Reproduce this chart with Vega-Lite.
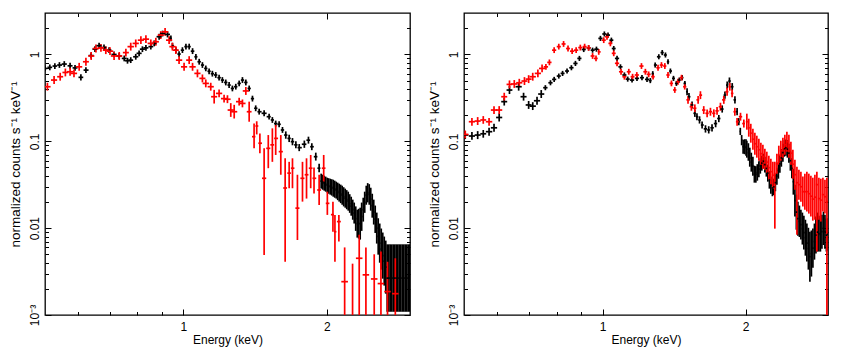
{
"$schema": "https://vega.github.io/schema/vega-lite/v6.json",
"background": "white",
"padding": {"left": 7, "top": 11, "right": 0, "bottom": 8},
"config": {
  "view": {"stroke": "black", "strokeWidth": 1.3},
  "axis": {"domain": false, "grid": false, "tickColor": "black", "tickWidth": 1, "labelFont": "Liberation Sans", "labelFontSize": 12, "labelColor": "black", "titleFont": "Liberation Sans", "titleFontSize": 12, "titleFontWeight": "normal", "titleColor": "black", "labelFlush": false, "labelOverlap": false}
},
"datasets": {
"A": [
{"s":"b","e":0.512,"el":0.506,"eh":0.518,"y":0.69,"yl":0.64,"yh":0.745},
{"s":"b","e":0.524,"el":0.518,"eh":0.530,"y":0.71,"yl":0.657,"yh":0.767},
{"s":"b","e":0.537,"el":0.531,"eh":0.543,"y":0.735,"yl":0.68,"yh":0.794},
{"s":"b","e":0.549,"el":0.543,"eh":0.556,"y":0.755,"yl":0.70,"yh":0.815},
{"s":"b","e":0.562,"el":0.555,"eh":0.569,"y":0.775,"yl":0.718,"yh":0.837},
{"s":"b","e":0.578,"el":0.571,"eh":0.585,"y":0.74,"yl":0.685,"yh":0.80},
{"s":"b","e":0.592,"el":0.585,"eh":0.599,"y":0.70,"yl":0.648,"yh":0.756},
{"s":"b","e":0.609,"el":0.602,"eh":0.616,"y":0.545,"yl":0.50,"yh":0.59},
{"s":"b","e":0.624,"el":0.617,"eh":0.632,"y":0.66,"yl":0.61,"yh":0.713},
{"s":"b","e":0.640,"el":0.632,"eh":0.648,"y":0.97,"yl":0.90,"yh":1.05},
{"s":"b","e":0.652,"el":0.644,"eh":0.660,"y":1.15,"yl":1.065,"yh":1.24},
{"s":"b","e":0.665,"el":0.657,"eh":0.673,"y":1.26,"yl":1.17,"yh":1.36},
{"s":"b","e":0.681,"el":0.673,"eh":0.689,"y":1.20,"yl":1.11,"yh":1.30},
{"s":"b","e":0.698,"el":0.690,"eh":0.706,"y":1.12,"yl":1.04,"yh":1.21},
{"s":"b","e":0.715,"el":0.706,"eh":0.724,"y":1.00,"yl":0.926,"yh":1.08},
{"s":"b","e":0.733,"el":0.724,"eh":0.742,"y":0.96,"yl":0.89,"yh":1.04},
{"s":"b","e":0.751,"el":0.742,"eh":0.760,"y":0.90,"yl":0.833,"yh":0.972},
{"s":"b","e":0.763,"el":0.754,"eh":0.772,"y":0.846,"yl":0.783,"yh":0.914},
{"s":"b","e":0.775,"el":0.766,"eh":0.784,"y":0.86,"yl":0.796,"yh":0.929},
{"s":"b","e":0.794,"el":0.784,"eh":0.804,"y":0.94,"yl":0.87,"yh":1.015},
{"s":"b","e":0.807,"el":0.797,"eh":0.817,"y":1.03,"yl":0.954,"yh":1.11},
{"s":"b","e":0.820,"el":0.810,"eh":0.830,"y":1.15,"yl":1.065,"yh":1.24},
{"s":"b","e":0.834,"el":0.824,"eh":0.844,"y":1.19,"yl":1.10,"yh":1.285},
{"s":"b","e":0.854,"el":0.844,"eh":0.864,"y":1.23,"yl":1.14,"yh":1.33},
{"s":"b","e":0.868,"el":0.858,"eh":0.878,"y":1.34,"yl":1.24,"yh":1.45},
{"s":"b","e":0.889,"el":0.878,"eh":0.900,"y":1.60,"yl":1.48,"yh":1.73},
{"s":"b","e":0.904,"el":0.893,"eh":0.915,"y":1.74,"yl":1.61,"yh":1.88},
{"s":"b","e":0.926,"el":0.915,"eh":0.937,"y":1.70,"yl":1.57,"yh":1.84},
{"s":"b","e":0.941,"el":0.934,"eh":0.945,"y":1.53,"yl":1.42,"yh":1.65},
{"s":"b","e":0.948,"el":0.945,"eh":0.955,"y":1.26,"yl":1.17,"yh":1.36},
{"s":"b","e":0.964,"el":0.956,"eh":0.972,"y":1.12,"yl":1.04,"yh":1.21},
{"s":"b","e":0.979,"el":0.971,"eh":0.987,"y":1.01,"yl":0.935,"yh":1.09},
{"s":"b","e":0.995,"el":0.987,"eh":1.003,"y":1.12,"yl":1.04,"yh":1.21},
{"s":"b","e":1.012,"el":1.004,"eh":1.020,"y":1.23,"yl":1.14,"yh":1.33},
{"s":"b","e":1.028,"el":1.020,"eh":1.036,"y":1.23,"yl":1.14,"yh":1.33},
{"s":"b","e":1.045,"el":1.036,"eh":1.054,"y":1.09,"yl":1.01,"yh":1.18},
{"s":"b","e":1.062,"el":1.054,"eh":1.070,"y":0.94,"yl":0.87,"yh":1.015},
{"s":"b","e":1.079,"el":1.070,"eh":1.088,"y":0.824,"yl":0.763,"yh":0.89},
{"s":"b","e":1.096,"el":1.088,"eh":1.105,"y":0.755,"yl":0.70,"yh":0.815},
{"s":"b","e":1.114,"el":1.105,"eh":1.123,"y":0.69,"yl":0.64,"yh":0.745},
{"s":"b","e":1.132,"el":1.123,"eh":1.141,"y":0.64,"yl":0.593,"yh":0.69},
{"s":"b","e":1.150,"el":1.141,"eh":1.159,"y":0.60,"yl":0.556,"yh":0.648},
{"s":"b","e":1.169,"el":1.159,"eh":1.178,"y":0.58,"yl":0.537,"yh":0.626},
{"s":"b","e":1.188,"el":1.178,"eh":1.198,"y":0.54,"yl":0.50,"yh":0.583},
{"s":"b","e":1.207,"el":1.198,"eh":1.217,"y":0.507,"yl":0.47,"yh":0.548},
{"s":"b","e":1.227,"el":1.217,"eh":1.237,"y":0.476,"yl":0.44,"yh":0.514},
{"s":"b","e":1.247,"el":1.237,"eh":1.257,"y":0.444,"yl":0.411,"yh":0.48},
{"s":"b","e":1.267,"el":1.257,"eh":1.277,"y":0.406,"yl":0.376,"yh":0.438},
{"s":"b","e":1.288,"el":1.277,"eh":1.298,"y":0.425,"yl":0.394,"yh":0.459},
{"s":"b","e":1.309,"el":1.298,"eh":1.320,"y":0.464,"yl":0.43,"yh":0.50},
{"s":"b","e":1.330,"el":1.320,"eh":1.341,"y":0.507,"yl":0.47,"yh":0.548},
{"s":"b","e":1.352,"el":1.341,"eh":1.363,"y":0.476,"yl":0.44,"yh":0.514},
{"s":"b","e":1.374,"el":1.363,"eh":1.385,"y":0.406,"yl":0.376,"yh":0.438},
{"s":"b","e":1.396,"el":1.385,"eh":1.407,"y":0.31,"yl":0.287,"yh":0.335},
{"s":"b","e":1.418,"el":1.407,"eh":1.430,"y":0.24,"yl":0.222,"yh":0.259},
{"s":"b","e":1.442,"el":1.430,"eh":1.459,"y":0.219,"yl":0.203,"yh":0.237},
{"s":"b","e":1.477,"el":1.459,"eh":1.495,"y":0.21,"yl":0.194,"yh":0.227},
{"s":"b","e":1.513,"el":1.495,"eh":1.525,"y":0.192,"yl":0.178,"yh":0.207},
{"s":"b","e":1.537,"el":1.525,"eh":1.549,"y":0.176,"yl":0.163,"yh":0.19},
{"s":"b","e":1.562,"el":1.549,"eh":1.575,"y":0.16,"yl":0.148,"yh":0.173},
{"s":"b","e":1.588,"el":1.575,"eh":1.601,"y":0.157,"yl":0.145,"yh":0.17},
{"s":"b","e":1.614,"el":1.601,"eh":1.627,"y":0.135,"yl":0.125,"yh":0.146},
{"s":"b","e":1.640,"el":1.627,"eh":1.653,"y":0.118,"yl":0.107,"yh":0.13},
{"s":"b","e":1.667,"el":1.653,"eh":1.680,"y":0.108,"yl":0.098,"yh":0.119},
{"s":"b","e":1.694,"el":1.680,"eh":1.708,"y":0.099,"yl":0.09,"yh":0.109},
{"s":"b","e":1.722,"el":1.708,"eh":1.736,"y":0.091,"yl":0.083,"yh":0.10},
{"s":"b","e":1.750,"el":1.736,"eh":1.772,"y":0.0845,"yl":0.077,"yh":0.093},
{"s":"b","e":1.794,"el":1.772,"eh":1.812,"y":0.0925,"yl":0.084,"yh":0.102},
{"s":"b","e":1.830,"el":1.812,"eh":1.845,"y":0.103,"yl":0.094,"yh":0.113},
{"s":"b","e":1.860,"el":1.845,"eh":1.878,"y":0.0866,"yl":0.079,"yh":0.095},
{"s":"b","e":1.896,"el":1.878,"eh":1.911,"y":0.0665,"yl":0.06,"yh":0.074},
{"s":"b","e":1.927,"el":1.911,"eh":1.939,"y":0.049,"yl":0.044,"yh":0.055},
{"s":"b","e":1.946,"el":1.939,"eh":1.953,"y":0.0348,"yl":0.0285,"yh":0.0424},
{"s":"b","e":1.961,"el":1.954,"eh":1.968,"y":0.0339,"yl":0.0277,"yh":0.0413},
{"s":"b","e":1.975,"el":1.968,"eh":1.982,"y":0.0330,"yl":0.0270,"yh":0.0402},
{"s":"b","e":1.989,"el":1.982,"eh":1.996,"y":0.0321,"yl":0.0263,"yh":0.0392},
{"s":"b","e":2.004,"el":1.997,"eh":2.011,"y":0.0313,"yl":0.0256,"yh":0.0381},
{"s":"b","e":2.018,"el":2.011,"eh":2.025,"y":0.0306,"yl":0.0249,"yh":0.0376},
{"s":"b","e":2.033,"el":2.026,"eh":2.040,"y":0.0300,"yl":0.0243,"yh":0.0371},
{"s":"b","e":2.048,"el":2.041,"eh":2.055,"y":0.0294,"yl":0.0237,"yh":0.0366},
{"s":"b","e":2.063,"el":2.056,"eh":2.070,"y":0.0289,"yl":0.0230,"yh":0.0361},
{"s":"b","e":2.078,"el":2.070,"eh":2.086,"y":0.0282,"yl":0.0224,"yh":0.0352},
{"s":"b","e":2.093,"el":2.085,"eh":2.101,"y":0.0274,"yl":0.0219,"yh":0.0343},
{"s":"b","e":2.108,"el":2.100,"eh":2.116,"y":0.0265,"yl":0.0210,"yh":0.0334},
{"s":"b","e":2.123,"el":2.115,"eh":2.131,"y":0.0256,"yl":0.0202,"yh":0.0325},
{"s":"b","e":2.139,"el":2.131,"eh":2.147,"y":0.0248,"yl":0.0194,"yh":0.0317},
{"s":"b","e":2.154,"el":2.146,"eh":2.162,"y":0.0240,"yl":0.0186,"yh":0.0308},
{"s":"b","e":2.170,"el":2.162,"eh":2.178,"y":0.0230,"yl":0.0178,"yh":0.0296},
{"s":"b","e":2.186,"el":2.178,"eh":2.194,"y":0.0221,"yl":0.0172,"yh":0.0285},
{"s":"b","e":2.202,"el":2.194,"eh":2.210,"y":0.0213,"yl":0.0165,"yh":0.0274},
{"s":"b","e":2.218,"el":2.210,"eh":2.226,"y":0.0205,"yl":0.0159,"yh":0.0263},
{"s":"b","e":2.234,"el":2.226,"eh":2.242,"y":0.0191,"yl":0.0150,"yh":0.0246},
{"s":"b","e":2.250,"el":2.242,"eh":2.258,"y":0.0179,"yl":0.0139,"yh":0.0230},
{"s":"b","e":2.267,"el":2.259,"eh":2.275,"y":0.0163,"yl":0.0125,"yh":0.0213},
{"s":"b","e":2.283,"el":2.275,"eh":2.291,"y":0.0149,"yl":0.0113,"yh":0.0197},
{"s":"b","e":2.300,"el":2.292,"eh":2.308,"y":0.0129,"yl":0.0093,"yh":0.0178},
{"s":"b","e":2.317,"el":2.309,"eh":2.325,"y":0.0113,"yl":0.00778,"yh":0.0163},
{"s":"b","e":2.333,"el":2.325,"eh":2.341,"y":0.0113,"yl":0.00758,"yh":0.0167},
{"s":"b","e":2.350,"el":2.342,"eh":2.358,"y":0.0113,"yl":0.00738,"yh":0.0172},
{"s":"b","e":2.367,"el":2.358,"eh":2.376,"y":0.0136,"yl":0.0093,"yh":0.0197},
{"s":"b","e":2.385,"el":2.376,"eh":2.394,"y":0.0163,"yl":0.0119,"yh":0.0224},
{"s":"b","e":2.402,"el":2.393,"eh":2.411,"y":0.0198,"yl":0.0150,"yh":0.0263},
{"s":"b","e":2.420,"el":2.411,"eh":2.429,"y":0.0240,"yl":0.0186,"yh":0.0308},
{"s":"b","e":2.437,"el":2.428,"eh":2.446,"y":0.0256,"yl":0.0198,"yh":0.0330},
{"s":"b","e":2.455,"el":2.446,"eh":2.464,"y":0.0245,"yl":0.0186,"yh":0.0321},
{"s":"b","e":2.473,"el":2.464,"eh":2.482,"y":0.0216,"yl":0.0159,"yh":0.0292},
{"s":"b","e":2.491,"el":2.482,"eh":2.500,"y":0.0182,"yl":0.0132,"yh":0.0249},
{"s":"b","e":2.509,"el":2.500,"eh":2.518,"y":0.0153,"yl":0.0110,"yh":0.0213},
{"s":"b","e":2.527,"el":2.518,"eh":2.536,"y":0.0127,"yl":0.0088,"yh":0.0182},
{"s":"b","e":2.546,"el":2.537,"eh":2.555,"y":0.0100,"yl":0.00664,"yh":0.0151},
{"s":"b","e":2.564,"el":2.555,"eh":2.573,"y":0.00804,"yl":0.00495,"yh":0.0130},
{"s":"b","e":2.583,"el":2.574,"eh":2.592,"y":0.00672,"yl":0.0040,"yh":0.0113},
{"s":"b","e":2.602,"el":2.593,"eh":2.611,"y":0.00574,"yl":0.00333,"yh":0.0099},
{"s":"b","e":2.621,"el":2.612,"eh":2.630,"y":0.00483,"yl":0.00262,"yh":0.0089},
{"s":"b","e":2.640,"el":2.630,"eh":2.650,"y":0.00417,"yl":0.00218,"yh":0.0080},
{"s":"b","e":2.659,"el":2.649,"eh":2.669,"y":0.00356,"yl":0.00176,"yh":0.00719},
{"s":"b","e":2.678,"el":2.668,"eh":2.688,"y":0.00266,"yl":0.00109,"yh":0.00651},
{"s":"b","e":2.698,"el":2.688,"eh":2.708,"y":0.00266,"yl":0.00109,"yh":0.00651},
{"s":"b","e":2.717,"el":2.707,"eh":2.727,"y":0.00266,"yl":0.00109,"yh":0.00651},
{"s":"b","e":2.737,"el":2.727,"eh":2.747,"y":0.00266,"yl":0.00109,"yh":0.00651},
{"s":"b","e":2.757,"el":2.747,"eh":2.767,"y":0.00266,"yl":0.00109,"yh":0.00651},
{"s":"b","e":2.777,"el":2.767,"eh":2.787,"y":0.00266,"yl":0.00109,"yh":0.00651},
{"s":"b","e":2.797,"el":2.787,"eh":2.807,"y":0.00266,"yl":0.00109,"yh":0.00651},
{"s":"b","e":2.818,"el":2.808,"eh":2.828,"y":0.00266,"yl":0.00109,"yh":0.00651},
{"s":"b","e":2.838,"el":2.828,"eh":2.848,"y":0.00266,"yl":0.00109,"yh":0.00651},
{"s":"b","e":2.859,"el":2.849,"eh":2.869,"y":0.00266,"yl":0.00109,"yh":0.00651},
{"s":"b","e":2.880,"el":2.870,"eh":2.890,"y":0.00266,"yl":0.00109,"yh":0.00651},
{"s":"b","e":2.901,"el":2.891,"eh":2.911,"y":0.00266,"yl":0.00109,"yh":0.00651},
{"s":"b","e":2.922,"el":2.911,"eh":2.933,"y":0.00266,"yl":0.00109,"yh":0.00651},
{"s":"b","e":2.943,"el":2.932,"eh":2.954,"y":0.00266,"yl":0.00109,"yh":0.00651},
{"s":"b","e":2.964,"el":2.953,"eh":2.975,"y":0.00266,"yl":0.00109,"yh":0.00651},
{"s":"b","e":2.986,"el":2.975,"eh":2.997,"y":0.00266,"yl":0.00109,"yh":0.00651},
{"s":"r","e":0.518,"el":0.510,"eh":0.526,"y":0.425,"yl":0.383,"yh":0.472},
{"s":"r","e":0.535,"el":0.527,"eh":0.543,"y":0.507,"yl":0.457,"yh":0.563},
{"s":"r","e":0.551,"el":0.543,"eh":0.559,"y":0.554,"yl":0.499,"yh":0.615},
{"s":"r","e":0.565,"el":0.557,"eh":0.573,"y":0.62,"yl":0.559,"yh":0.688},
{"s":"r","e":0.578,"el":0.569,"eh":0.587,"y":0.632,"yl":0.569,"yh":0.702},
{"s":"r","e":0.589,"el":0.580,"eh":0.598,"y":0.605,"yl":0.545,"yh":0.672},
{"s":"r","e":0.604,"el":0.595,"eh":0.613,"y":0.72,"yl":0.649,"yh":0.80},
{"s":"r","e":0.624,"el":0.615,"eh":0.633,"y":0.824,"yl":0.742,"yh":0.915},
{"s":"r","e":0.640,"el":0.631,"eh":0.650,"y":0.96,"yl":0.865,"yh":1.066},
{"s":"r","e":0.655,"el":0.645,"eh":0.665,"y":1.17,"yl":1.054,"yh":1.30},
{"s":"r","e":0.671,"el":0.661,"eh":0.681,"y":1.19,"yl":1.072,"yh":1.32},
{"s":"r","e":0.687,"el":0.677,"eh":0.697,"y":1.12,"yl":1.009,"yh":1.243},
{"s":"r","e":0.701,"el":0.690,"eh":0.712,"y":1.09,"yl":0.982,"yh":1.21},
{"s":"r","e":0.715,"el":0.704,"eh":0.726,"y":0.96,"yl":0.865,"yh":1.066},
{"s":"r","e":0.733,"el":0.722,"eh":0.744,"y":0.96,"yl":0.865,"yh":1.066},
{"s":"r","e":0.757,"el":0.746,"eh":0.768,"y":1.05,"yl":0.946,"yh":1.166},
{"s":"r","e":0.775,"el":0.763,"eh":0.787,"y":1.23,"yl":1.108,"yh":1.365},
{"s":"r","e":0.794,"el":0.782,"eh":0.806,"y":1.34,"yl":1.207,"yh":1.487},
{"s":"r","e":0.814,"el":0.802,"eh":0.826,"y":1.46,"yl":1.315,"yh":1.62},
{"s":"r","e":0.834,"el":0.821,"eh":0.847,"y":1.50,"yl":1.351,"yh":1.665},
{"s":"r","e":0.854,"el":0.841,"eh":0.867,"y":1.34,"yl":1.207,"yh":1.487},
{"s":"r","e":0.875,"el":0.862,"eh":0.888,"y":1.40,"yl":1.261,"yh":1.554},
{"s":"r","e":0.896,"el":0.883,"eh":0.909,"y":1.67,"yl":1.505,"yh":1.854},
{"s":"r","e":0.915,"el":0.901,"eh":0.929,"y":1.82,"yl":1.64,"yh":2.02},
{"s":"r","e":0.933,"el":0.919,"eh":0.947,"y":1.46,"yl":1.315,"yh":1.62},
{"s":"r","e":0.948,"el":0.934,"eh":0.962,"y":1.23,"yl":1.108,"yh":1.365},
{"s":"r","e":0.964,"el":0.950,"eh":0.978,"y":1.12,"yl":1.009,"yh":1.243},
{"s":"r","e":0.979,"el":0.964,"eh":0.994,"y":0.86,"yl":0.775,"yh":0.955},
{"s":"r","e":1.003,"el":0.988,"eh":1.018,"y":0.72,"yl":0.649,"yh":0.80},
{"s":"r","e":1.028,"el":1.013,"eh":1.043,"y":0.86,"yl":0.775,"yh":0.955},
{"s":"r","e":1.045,"el":1.029,"eh":1.061,"y":0.72,"yl":0.649,"yh":0.80},
{"s":"r","e":1.070,"el":1.054,"eh":1.086,"y":0.605,"yl":0.545,"yh":0.672},
{"s":"r","e":1.096,"el":1.080,"eh":1.112,"y":0.53,"yl":0.477,"yh":0.588},
{"s":"r","e":1.114,"el":1.097,"eh":1.131,"y":0.464,"yl":0.418,"yh":0.515},
{"s":"r","e":1.141,"el":1.124,"eh":1.158,"y":0.425,"yl":0.383,"yh":0.472},
{"s":"r","e":1.160,"el":1.143,"eh":1.177,"y":0.326,"yl":0.272,"yh":0.391},
{"s":"r","e":1.188,"el":1.170,"eh":1.206,"y":0.356,"yl":0.321,"yh":0.395},
{"s":"r","e":1.217,"el":1.199,"eh":1.235,"y":0.31,"yl":0.279,"yh":0.344},
{"s":"r","e":1.237,"el":1.218,"eh":1.256,"y":0.305,"yl":0.275,"yh":0.339},
{"s":"r","e":1.257,"el":1.238,"eh":1.276,"y":0.229,"yl":0.191,"yh":0.275},
{"s":"r","e":1.278,"el":1.259,"eh":1.297,"y":0.219,"yl":0.183,"yh":0.263},
{"s":"r","e":1.309,"el":1.289,"eh":1.329,"y":0.286,"yl":0.258,"yh":0.317},
{"s":"r","e":1.330,"el":1.310,"eh":1.350,"y":0.273,"yl":0.246,"yh":0.303},
{"s":"r","e":1.352,"el":1.332,"eh":1.372,"y":0.38,"yl":0.342,"yh":0.422},
{"s":"r","e":1.374,"el":1.358,"eh":1.390,"y":0.219,"yl":0.168,"yh":0.286},
{"s":"r","e":1.407,"el":1.393,"eh":1.416,"y":0.113,"yl":0.083,"yh":0.16},
{"s":"r","e":1.425,"el":1.416,"eh":1.436,"y":0.15,"yl":0.12,"yh":0.17},
{"s":"r","e":1.447,"el":1.436,"eh":1.462,"y":0.095,"yl":0.073,"yh":0.123},
{"s":"r","e":1.477,"el":1.462,"eh":1.492,"y":0.0375,"yl":0.0049,"yh":0.083},
{"s":"r","e":1.507,"el":1.492,"eh":1.522,"y":0.083,"yl":0.049,"yh":0.118},
{"s":"r","e":1.537,"el":1.522,"eh":1.550,"y":0.091,"yl":0.058,"yh":0.141},
{"s":"r","e":1.562,"el":1.550,"eh":1.580,"y":0.108,"yl":0.0696,"yh":0.154},
{"s":"r","e":1.601,"el":1.585,"eh":1.617,"y":0.076,"yl":0.0412,"yh":0.118},
{"s":"r","e":1.635,"el":1.620,"eh":1.650,"y":0.029,"yl":0.0041,"yh":0.0637},
{"s":"r","e":1.667,"el":1.652,"eh":1.681,"y":0.043,"yl":0.0288,"yh":0.058},
{"s":"r","e":1.694,"el":1.681,"eh":1.710,"y":0.049,"yl":0.0288,"yh":0.0637},
{"s":"r","e":1.735,"el":1.718,"eh":1.752,"y":0.017,"yl":0.0073,"yh":0.0412},
{"s":"r","e":1.778,"el":1.760,"eh":1.795,"y":0.0375,"yl":0.0202,"yh":0.058},
{"s":"r","e":1.813,"el":1.797,"eh":1.830,"y":0.0412,"yl":0.0219,"yh":0.0637},
{"s":"r","e":1.850,"el":1.833,"eh":1.866,"y":0.049,"yl":0.0288,"yh":0.0696},
{"s":"r","e":1.880,"el":1.866,"eh":1.900,"y":0.0375,"yl":0.025,"yh":0.05},
{"s":"r","e":1.927,"el":1.909,"eh":1.945,"y":0.0275,"yl":0.0185,"yh":0.0412},
{"s":"r","e":1.970,"el":1.952,"eh":1.987,"y":0.049,"yl":0.0343,"yh":0.0696},
{"s":"r","e":2.005,"el":1.990,"eh":2.025,"y":0.0193,"yl":0.0142,"yh":0.0263},
{"s":"r","e":2.060,"el":2.040,"eh":2.070,"y":0.0143,"yl":0.0091,"yh":0.0202},
{"s":"r","e":2.080,"el":2.070,"eh":2.095,"y":0.0091,"yl":0.0041,"yh":0.0142},
{"s":"r","e":2.120,"el":2.100,"eh":2.140,"y":0.0119,"yl":0.007,"yh":0.0142},
{"s":"r","e":2.180,"el":2.145,"eh":2.215,"y":0.00242,"yl":0.0005,"yh":0.006},
{"s":"r","e":2.265,"el":2.230,"eh":2.300,"y":0.0009,"yl":0.0005,"yh":0.0039},
{"s":"r","e":2.339,"el":2.302,"eh":2.376,"y":0.0045,"yl":0.0005,"yh":0.0084},
{"s":"r","e":2.416,"el":2.378,"eh":2.454,"y":0.0029,"yl":0.0005,"yh":0.006},
{"s":"r","e":2.515,"el":2.475,"eh":2.555,"y":0.0026,"yl":0.0005,"yh":0.005},
{"s":"r","e":2.598,"el":2.557,"eh":2.639,"y":0.0023,"yl":0.0005,"yh":0.0054},
{"s":"r","e":2.682,"el":2.640,"eh":2.724,"y":0.00186,"yl":0.0005,"yh":0.0041},
{"s":"r","e":2.785,"el":2.741,"eh":2.829,"y":0.00176,"yl":0.0005,"yh":0.0045}
],
"B": [
{"s":"b","e":0.513,"el":0.505,"eh":0.521,"y":0.118,"yl":0.106,"yh":0.131},
{"s":"b","e":0.530,"el":0.522,"eh":0.538,"y":0.115,"yl":0.104,"yh":0.128},
{"s":"b","e":0.545,"el":0.537,"eh":0.553,"y":0.118,"yl":0.106,"yh":0.131},
{"s":"b","e":0.560,"el":0.552,"eh":0.568,"y":0.122,"yl":0.110,"yh":0.135},
{"s":"b","e":0.576,"el":0.567,"eh":0.585,"y":0.129,"yl":0.116,"yh":0.143},
{"s":"b","e":0.590,"el":0.581,"eh":0.599,"y":0.143,"yl":0.129,"yh":0.159},
{"s":"b","e":0.605,"el":0.596,"eh":0.614,"y":0.188,"yl":0.169,"yh":0.209},
{"s":"b","e":0.620,"el":0.611,"eh":0.629,"y":0.286,"yl":0.258,"yh":0.317},
{"s":"b","e":0.636,"el":0.627,"eh":0.645,"y":0.389,"yl":0.350,"yh":0.432},
{"s":"b","e":0.665,"el":0.655,"eh":0.675,"y":0.425,"yl":0.383,"yh":0.472},
{"s":"b","e":0.681,"el":0.671,"eh":0.691,"y":0.326,"yl":0.294,"yh":0.362},
{"s":"b","e":0.698,"el":0.688,"eh":0.708,"y":0.262,"yl":0.236,"yh":0.291},
{"s":"b","e":0.712,"el":0.701,"eh":0.723,"y":0.254,"yl":0.229,"yh":0.282},
{"s":"b","e":0.727,"el":0.716,"eh":0.738,"y":0.293,"yl":0.264,"yh":0.325},
{"s":"b","e":0.742,"el":0.731,"eh":0.753,"y":0.35,"yl":0.315,"yh":0.389},
{"s":"b","e":0.757,"el":0.749,"eh":0.765,"y":0.414,"yl":0.387,"yh":0.443},
{"s":"b","e":0.776,"el":0.768,"eh":0.784,"y":0.472,"yl":0.441,"yh":0.505},
{"s":"b","e":0.790,"el":0.782,"eh":0.798,"y":0.516,"yl":0.482,"yh":0.552},
{"s":"b","e":0.808,"el":0.800,"eh":0.816,"y":0.564,"yl":0.527,"yh":0.603},
{"s":"b","e":0.823,"el":0.815,"eh":0.831,"y":0.605,"yl":0.565,"yh":0.647},
{"s":"b","e":0.841,"el":0.833,"eh":0.849,"y":0.644,"yl":0.602,"yh":0.689},
{"s":"b","e":0.859,"el":0.850,"eh":0.868,"y":0.703,"yl":0.657,"yh":0.752},
{"s":"b","e":0.876,"el":0.867,"eh":0.885,"y":0.788,"yl":0.736,"yh":0.843},
{"s":"b","e":0.893,"el":0.884,"eh":0.902,"y":0.90,"yl":0.841,"yh":0.963},
{"s":"b","e":0.912,"el":0.903,"eh":0.921,"y":1.14,"yl":1.065,"yh":1.22},
{"s":"b","e":0.934,"el":0.925,"eh":0.943,"y":1.19,"yl":1.112,"yh":1.273},
{"s":"b","e":0.952,"el":0.943,"eh":0.962,"y":1.12,"yl":1.047,"yh":1.198},
{"s":"b","e":0.970,"el":0.960,"eh":0.980,"y":1.15,"yl":1.075,"yh":1.23},
{"s":"b","e":0.989,"el":0.979,"eh":0.999,"y":1.53,"yl":1.43,"yh":1.637},
{"s":"b","e":1.008,"el":0.998,"eh":1.018,"y":1.72,"yl":1.607,"yh":1.84},
{"s":"b","e":1.026,"el":1.016,"eh":1.036,"y":1.67,"yl":1.561,"yh":1.787},
{"s":"b","e":1.043,"el":1.033,"eh":1.053,"y":1.46,"yl":1.364,"yh":1.562},
{"s":"b","e":1.055,"el":1.045,"eh":1.065,"y":1.17,"yl":1.093,"yh":1.252},
{"s":"b","e":1.072,"el":1.061,"eh":1.083,"y":0.90,"yl":0.841,"yh":0.963},
{"s":"b","e":1.090,"el":1.079,"eh":1.101,"y":0.72,"yl":0.673,"yh":0.770},
{"s":"b","e":1.111,"el":1.100,"eh":1.122,"y":0.58,"yl":0.542,"yh":0.621},
{"s":"b","e":1.129,"el":1.118,"eh":1.140,"y":0.52,"yl":0.486,"yh":0.556},
{"s":"b","e":1.153,"el":1.141,"eh":1.165,"y":0.507,"yl":0.474,"yh":0.542},
{"s":"b","e":1.181,"el":1.169,"eh":1.193,"y":0.53,"yl":0.495,"yh":0.567},
{"s":"b","e":1.210,"el":1.198,"eh":1.222,"y":0.54,"yl":0.505,"yh":0.578},
{"s":"b","e":1.240,"el":1.228,"eh":1.252,"y":0.516,"yl":0.482,"yh":0.552},
{"s":"b","e":1.260,"el":1.250,"eh":1.268,"y":0.50,"yl":0.467,"yh":0.535},
{"s":"b","e":1.275,"el":1.268,"eh":1.282,"y":0.60,"yl":0.561,"yh":0.642},
{"s":"b","e":1.290,"el":1.282,"eh":1.301,"y":0.755,"yl":0.706,"yh":0.808},
{"s":"b","e":1.313,"el":1.301,"eh":1.324,"y":0.94,"yl":0.879,"yh":1.006},
{"s":"b","e":1.335,"el":1.324,"eh":1.345,"y":1.05,"yl":0.981,"yh":1.124},
{"s":"b","e":1.356,"el":1.345,"eh":1.365,"y":0.985,"yl":0.921,"yh":1.054},
{"s":"b","e":1.373,"el":1.365,"eh":1.381,"y":0.824,"yl":0.770,"yh":0.882},
{"s":"b","e":1.389,"el":1.381,"eh":1.400,"y":0.644,"yl":0.602,"yh":0.689},
{"s":"b","e":1.410,"el":1.400,"eh":1.420,"y":0.53,"yl":0.495,"yh":0.567},
{"s":"b","e":1.430,"el":1.420,"eh":1.440,"y":0.464,"yl":0.434,"yh":0.496},
{"s":"b","e":1.450,"el":1.440,"eh":1.460,"y":0.507,"yl":0.474,"yh":0.542},
{"s":"b","e":1.470,"el":1.460,"eh":1.480,"y":0.54,"yl":0.505,"yh":0.578},
{"s":"b","e":1.490,"el":1.480,"eh":1.498,"y":0.464,"yl":0.434,"yh":0.496},
{"s":"b","e":1.506,"el":1.498,"eh":1.513,"y":0.372,"yl":0.338,"yh":0.409},
{"s":"b","e":1.520,"el":1.513,"eh":1.531,"y":0.326,"yl":0.296,"yh":0.359},
{"s":"b","e":1.543,"el":1.531,"eh":1.553,"y":0.262,"yl":0.238,"yh":0.288},
{"s":"b","e":1.564,"el":1.553,"eh":1.572,"y":0.21,"yl":0.191,"yh":0.231},
{"s":"b","e":1.580,"el":1.572,"eh":1.590,"y":0.192,"yl":0.175,"yh":0.211},
{"s":"b","e":1.600,"el":1.590,"eh":1.610,"y":0.176,"yl":0.160,"yh":0.194},
{"s":"b","e":1.620,"el":1.610,"eh":1.633,"y":0.154,"yl":0.140,"yh":0.169},
{"s":"b","e":1.647,"el":1.633,"eh":1.660,"y":0.139,"yl":0.126,"yh":0.153},
{"s":"b","e":1.673,"el":1.660,"eh":1.686,"y":0.135,"yl":0.123,"yh":0.149},
{"s":"b","e":1.700,"el":1.686,"eh":1.715,"y":0.143,"yl":0.130,"yh":0.157},
{"s":"b","e":1.730,"el":1.715,"eh":1.743,"y":0.16,"yl":0.145,"yh":0.176},
{"s":"b","e":1.757,"el":1.743,"eh":1.771,"y":0.183,"yl":0.166,"yh":0.201},
{"s":"b","e":1.786,"el":1.771,"eh":1.798,"y":0.235,"yl":0.214,"yh":0.259},
{"s":"b","e":1.810,"el":1.798,"eh":1.820,"y":0.34,"yl":0.309,"yh":0.374},
{"s":"b","e":1.830,"el":1.820,"eh":1.840,"y":0.444,"yl":0.404,"yh":0.488},
{"s":"b","e":1.850,"el":1.840,"eh":1.862,"y":0.494,"yl":0.449,"yh":0.543},
{"s":"b","e":1.875,"el":1.862,"eh":1.887,"y":0.425,"yl":0.386,"yh":0.468},
{"s":"b","e":1.900,"el":1.887,"eh":1.910,"y":0.30,"yl":0.273,"yh":0.33},
{"s":"b","e":1.920,"el":1.910,"eh":1.928,"y":0.219,"yl":0.199,"yh":0.241},
{"s":"b","e":1.936,"el":1.928,"eh":1.944,"y":0.168,"yl":0.153,"yh":0.185},
{"s":"b","e":1.950,"el":1.944,"eh":1.957,"y":0.13,"yl":0.118,"yh":0.143},
{"s":"b","e":1.963,"el":1.957,"eh":1.970,"y":0.104,"yl":0.090,"yh":0.118},
{"s":"b","e":1.977,"el":1.970,"eh":1.984,"y":0.0866,"yl":0.0720,"yh":0.1043},
{"s":"b","e":1.991,"el":1.984,"eh":1.998,"y":0.0866,"yl":0.0710,"yh":0.1057},
{"s":"b","e":2.005,"el":1.998,"eh":2.012,"y":0.0850,"yl":0.0683,"yh":0.1057},
{"s":"b","e":2.013,"el":2.006,"eh":2.020,"y":0.0810,"yl":0.0648,"yh":0.1015},
{"s":"b","e":2.028,"el":2.021,"eh":2.035,"y":0.0740,"yl":0.0597,"yh":0.0950},
{"s":"b","e":2.042,"el":2.035,"eh":2.049,"y":0.0640,"yl":0.0510,"yh":0.0844},
{"s":"b","e":2.057,"el":2.050,"eh":2.064,"y":0.0575,"yl":0.0447,"yh":0.0739},
{"s":"b","e":2.073,"el":2.066,"eh":2.080,"y":0.0517,"yl":0.0402,"yh":0.0665},
{"s":"b","e":2.088,"el":2.080,"eh":2.096,"y":0.0418,"yl":0.0334,"yh":0.0524},
{"s":"b","e":2.103,"el":2.095,"eh":2.111,"y":0.0416,"yl":0.0334,"yh":0.0517},
{"s":"b","e":2.118,"el":2.110,"eh":2.126,"y":0.0435,"yl":0.0352,"yh":0.0545},
{"s":"b","e":2.134,"el":2.126,"eh":2.142,"y":0.0478,"yl":0.0386,"yh":0.0590},
{"s":"b","e":2.149,"el":2.141,"eh":2.157,"y":0.0520,"yl":0.0424,"yh":0.0637},
{"s":"b","e":2.165,"el":2.157,"eh":2.173,"y":0.0560,"yl":0.0459,"yh":0.0683},
{"s":"b","e":2.181,"el":2.173,"eh":2.189,"y":0.0590,"yl":0.0484,"yh":0.0720},
{"s":"b","e":2.197,"el":2.189,"eh":2.205,"y":0.0538,"yl":0.0436,"yh":0.0665},
{"s":"b","e":2.213,"el":2.205,"eh":2.221,"y":0.0487,"yl":0.0392,"yh":0.0606},
{"s":"b","e":2.229,"el":2.221,"eh":2.237,"y":0.0430,"yl":0.0343,"yh":0.0538},
{"s":"b","e":2.246,"el":2.238,"eh":2.254,"y":0.0359,"yl":0.0285,"yh":0.0453},
{"s":"b","e":2.262,"el":2.254,"eh":2.270,"y":0.0313,"yl":0.0249,"yh":0.0392},
{"s":"b","e":2.279,"el":2.271,"eh":2.287,"y":0.0290,"yl":0.0233,"yh":0.0361},
{"s":"b","e":2.295,"el":2.287,"eh":2.303,"y":0.0298,"yl":0.0240,"yh":0.0371},
{"s":"b","e":2.312,"el":2.304,"eh":2.320,"y":0.0334,"yl":0.0266,"yh":0.0418},
{"s":"b","e":2.329,"el":2.321,"eh":2.337,"y":0.0397,"yl":0.0317,"yh":0.0497},
{"s":"b","e":2.346,"el":2.338,"eh":2.354,"y":0.0462,"yl":0.0371,"yh":0.0575},
{"s":"b","e":2.363,"el":2.354,"eh":2.372,"y":0.0549,"yl":0.0435,"yh":0.0692},
{"s":"b","e":2.380,"el":2.371,"eh":2.389,"y":0.0643,"yl":0.0510,"yh":0.0814},
{"s":"b","e":2.398,"el":2.389,"eh":2.407,"y":0.0739,"yl":0.0582,"yh":0.0938},
{"s":"b","e":2.415,"el":2.406,"eh":2.424,"y":0.0822,"yl":0.0665,"yh":0.1032},
{"s":"b","e":2.433,"el":2.424,"eh":2.442,"y":0.0838,"yl":0.0683,"yh":0.1049},
{"s":"b","e":2.451,"el":2.442,"eh":2.460,"y":0.0811,"yl":0.0648,"yh":0.1032},
{"s":"b","e":2.469,"el":2.460,"eh":2.478,"y":0.0730,"yl":0.0567,"yh":0.0938},
{"s":"b","e":2.487,"el":2.478,"eh":2.496,"y":0.0598,"yl":0.0459,"yh":0.0781},
{"s":"b","e":2.505,"el":2.496,"eh":2.514,"y":0.0488,"yl":0.0375,"yh":0.0638},
{"s":"b","e":2.523,"el":2.514,"eh":2.532,"y":0.0343,"yl":0.0243,"yh":0.0482},
{"s":"b","e":2.542,"el":2.533,"eh":2.551,"y":0.0207,"yl":0.0136,"yh":0.0317},
{"s":"b","e":2.560,"el":2.551,"eh":2.569,"y":0.0153,"yl":0.0096,"yh":0.0243},
{"s":"b","e":2.579,"el":2.570,"eh":2.588,"y":0.0129,"yl":0.0082,"yh":0.0202},
{"s":"b","e":2.598,"el":2.589,"eh":2.607,"y":0.0120,"yl":0.0079,"yh":0.0182},
{"s":"b","e":2.617,"el":2.608,"eh":2.626,"y":0.0110,"yl":0.00738,"yh":0.0163},
{"s":"b","e":2.636,"el":2.627,"eh":2.645,"y":0.00987,"yl":0.00647,"yh":0.0151},
{"s":"b","e":2.655,"el":2.645,"eh":2.665,"y":0.00888,"yl":0.00566,"yh":0.0139},
{"s":"b","e":2.675,"el":2.665,"eh":2.685,"y":0.00777,"yl":0.00482,"yh":0.0125},
{"s":"b","e":2.694,"el":2.684,"eh":2.704,"y":0.00672,"yl":0.00412,"yh":0.0113},
{"s":"b","e":2.714,"el":2.704,"eh":2.724,"y":0.00581,"yl":0.00333,"yh":0.0101},
{"s":"b","e":2.734,"el":2.724,"eh":2.744,"y":0.0047,"yl":0.00242,"yh":0.0091},
{"s":"b","e":2.754,"el":2.744,"eh":2.764,"y":0.00509,"yl":0.00277,"yh":0.0094},
{"s":"b","e":2.774,"el":2.764,"eh":2.784,"y":0.00589,"yl":0.0035,"yh":0.0099},
{"s":"b","e":2.795,"el":2.785,"eh":2.805,"y":0.0070,"yl":0.00434,"yh":0.0113},
{"s":"b","e":2.815,"el":2.805,"eh":2.825,"y":0.00831,"yl":0.00509,"yh":0.0136},
{"s":"b","e":2.836,"el":2.826,"eh":2.846,"y":0.0090,"yl":0.00537,"yh":0.0151},
{"s":"b","e":2.856,"el":2.846,"eh":2.866,"y":0.00865,"yl":0.00537,"yh":0.0139},
{"s":"b","e":2.877,"el":2.867,"eh":2.887,"y":0.00842,"yl":0.00537,"yh":0.0132},
{"s":"b","e":2.898,"el":2.888,"eh":2.908,"y":0.00911,"yl":0.0058,"yh":0.0143},
{"s":"b","e":2.920,"el":2.909,"eh":2.931,"y":0.0100,"yl":0.0064,"yh":0.0155},
{"s":"b","e":2.941,"el":2.930,"eh":2.952,"y":0.00911,"yl":0.0058,"yh":0.0143},
{"s":"b","e":2.962,"el":2.951,"eh":2.973,"y":0.00831,"yl":0.00537,"yh":0.0129},
{"s":"b","e":2.984,"el":2.973,"eh":2.995,"y":0.0085,"yl":0.0055,"yh":0.013},
{"s":"r","e":0.513,"el":0.505,"eh":0.521,"y":0.12,"yl":0.108,"yh":0.133},
{"s":"r","e":0.530,"el":0.522,"eh":0.538,"y":0.168,"yl":0.151,"yh":0.186},
{"s":"r","e":0.545,"el":0.537,"eh":0.553,"y":0.171,"yl":0.154,"yh":0.190},
{"s":"r","e":0.560,"el":0.552,"eh":0.568,"y":0.176,"yl":0.159,"yh":0.195},
{"s":"r","e":0.576,"el":0.567,"eh":0.585,"y":0.168,"yl":0.151,"yh":0.186},
{"s":"r","e":0.590,"el":0.581,"eh":0.599,"y":0.229,"yl":0.206,"yh":0.254},
{"s":"r","e":0.605,"el":0.596,"eh":0.614,"y":0.229,"yl":0.206,"yh":0.254},
{"s":"r","e":0.620,"el":0.611,"eh":0.629,"y":0.326,"yl":0.294,"yh":0.362},
{"s":"r","e":0.636,"el":0.627,"eh":0.645,"y":0.452,"yl":0.407,"yh":0.502},
{"s":"r","e":0.651,"el":0.641,"eh":0.661,"y":0.457,"yl":0.412,"yh":0.507},
{"s":"r","e":0.667,"el":0.657,"eh":0.677,"y":0.472,"yl":0.425,"yh":0.524},
{"s":"r","e":0.684,"el":0.674,"eh":0.694,"y":0.494,"yl":0.445,"yh":0.548},
{"s":"r","e":0.698,"el":0.688,"eh":0.708,"y":0.52,"yl":0.468,"yh":0.577},
{"s":"r","e":0.712,"el":0.701,"eh":0.723,"y":0.554,"yl":0.499,"yh":0.615},
{"s":"r","e":0.730,"el":0.719,"eh":0.741,"y":0.605,"yl":0.545,"yh":0.672},
{"s":"r","e":0.745,"el":0.734,"eh":0.756,"y":0.69,"yl":0.622,"yh":0.766},
{"s":"r","e":0.759,"el":0.751,"eh":0.767,"y":0.72,"yl":0.667,"yh":0.778},
{"s":"r","e":0.772,"el":0.764,"eh":0.780,"y":0.81,"yl":0.75,"yh":0.875},
{"s":"r","e":0.790,"el":0.782,"eh":0.798,"y":1.12,"yl":1.037,"yh":1.21},
{"s":"r","e":0.808,"el":0.800,"eh":0.816,"y":1.23,"yl":1.139,"yh":1.328},
{"s":"r","e":0.827,"el":0.819,"eh":0.835,"y":1.32,"yl":1.222,"yh":1.426},
{"s":"r","e":0.845,"el":0.837,"eh":0.853,"y":1.17,"yl":1.083,"yh":1.264},
{"s":"r","e":0.862,"el":0.853,"eh":0.871,"y":1.09,"yl":1.009,"yh":1.177},
{"s":"r","e":0.879,"el":0.870,"eh":0.888,"y":1.12,"yl":1.037,"yh":1.21},
{"s":"r","e":0.897,"el":0.888,"eh":0.906,"y":1.20,"yl":1.111,"yh":1.296},
{"s":"r","e":0.916,"el":0.907,"eh":0.925,"y":1.23,"yl":1.139,"yh":1.328},
{"s":"r","e":0.934,"el":0.925,"eh":0.943,"y":1.19,"yl":1.102,"yh":1.285},
{"s":"r","e":0.952,"el":0.943,"eh":0.961,"y":0.96,"yl":0.889,"yh":1.037},
{"s":"r","e":0.968,"el":0.958,"eh":0.976,"y":0.90,"yl":0.833,"yh":0.972},
{"s":"r","e":0.981,"el":0.976,"eh":0.990,"y":1.07,"yl":0.991,"yh":1.156},
{"s":"r","e":1.005,"el":0.995,"eh":1.015,"y":1.46,"yl":1.352,"yh":1.577},
{"s":"r","e":1.021,"el":1.011,"eh":1.031,"y":1.60,"yl":1.481,"yh":1.728},
{"s":"r","e":1.038,"el":1.028,"eh":1.048,"y":1.34,"yl":1.241,"yh":1.447},
{"s":"r","e":1.055,"el":1.045,"eh":1.065,"y":1.03,"yl":0.954,"yh":1.112},
{"s":"r","e":1.072,"el":1.061,"eh":1.083,"y":0.79,"yl":0.731,"yh":0.853},
{"s":"r","e":1.093,"el":1.082,"eh":1.104,"y":0.632,"yl":0.585,"yh":0.683},
{"s":"r","e":1.111,"el":1.100,"eh":1.122,"y":0.554,"yl":0.513,"yh":0.598},
{"s":"r","e":1.135,"el":1.124,"eh":1.146,"y":0.632,"yl":0.585,"yh":0.683},
{"s":"r","e":1.156,"el":1.145,"eh":1.167,"y":0.554,"yl":0.513,"yh":0.598},
{"s":"r","e":1.180,"el":1.168,"eh":1.192,"y":0.58,"yl":0.537,"yh":0.626},
{"s":"r","e":1.207,"el":1.195,"eh":1.219,"y":0.735,"yl":0.681,"yh":0.794},
{"s":"r","e":1.230,"el":1.218,"eh":1.242,"y":0.632,"yl":0.585,"yh":0.683},
{"s":"r","e":1.250,"el":1.238,"eh":1.262,"y":0.59,"yl":0.546,"yh":0.637},
{"s":"r","e":1.277,"el":1.265,"eh":1.287,"y":0.554,"yl":0.513,"yh":0.598},
{"s":"r","e":1.308,"el":1.297,"eh":1.319,"y":0.703,"yl":0.651,"yh":0.759},
{"s":"r","e":1.330,"el":1.319,"eh":1.341,"y":0.755,"yl":0.699,"yh":0.815},
{"s":"r","e":1.352,"el":1.341,"eh":1.362,"y":0.735,"yl":0.681,"yh":0.794},
{"s":"r","e":1.373,"el":1.362,"eh":1.384,"y":0.58,"yl":0.537,"yh":0.626},
{"s":"r","e":1.396,"el":1.384,"eh":1.407,"y":0.464,"yl":0.43,"yh":0.501},
{"s":"r","e":1.419,"el":1.407,"eh":1.430,"y":0.39,"yl":0.361,"yh":0.421},
{"s":"r","e":1.441,"el":1.430,"eh":1.453,"y":0.485,"yl":0.449,"yh":0.524},
{"s":"r","e":1.466,"el":1.453,"eh":1.477,"y":0.54,"yl":0.50,"yh":0.583},
{"s":"r","e":1.489,"el":1.477,"eh":1.501,"y":0.425,"yl":0.394,"yh":0.459},
{"s":"r","e":1.513,"el":1.501,"eh":1.525,"y":0.30,"yl":0.27,"yh":0.333},
{"s":"r","e":1.538,"el":1.525,"eh":1.551,"y":0.25,"yl":0.225,"yh":0.278},
{"s":"r","e":1.564,"el":1.551,"eh":1.576,"y":0.24,"yl":0.216,"yh":0.266},
{"s":"r","e":1.589,"el":1.576,"eh":1.598,"y":0.30,"yl":0.27,"yh":0.333},
{"s":"r","e":1.607,"el":1.598,"eh":1.620,"y":0.34,"yl":0.306,"yh":0.377},
{"s":"r","e":1.633,"el":1.620,"eh":1.646,"y":0.229,"yl":0.206,"yh":0.254},
{"s":"r","e":1.660,"el":1.646,"eh":1.673,"y":0.21,"yl":0.189,"yh":0.233},
{"s":"r","e":1.687,"el":1.673,"eh":1.701,"y":0.219,"yl":0.197,"yh":0.243},
{"s":"r","e":1.715,"el":1.701,"eh":1.728,"y":0.21,"yl":0.189,"yh":0.233},
{"s":"r","e":1.742,"el":1.728,"eh":1.756,"y":0.224,"yl":0.202,"yh":0.249},
{"s":"r","e":1.771,"el":1.756,"eh":1.785,"y":0.25,"yl":0.225,"yh":0.278},
{"s":"r","e":1.800,"el":1.785,"eh":1.814,"y":0.30,"yl":0.27,"yh":0.333},
{"s":"r","e":1.829,"el":1.814,"eh":1.841,"y":0.372,"yl":0.335,"yh":0.413},
{"s":"r","e":1.853,"el":1.841,"eh":1.863,"y":0.425,"yl":0.383,"yh":0.472},
{"s":"r","e":1.874,"el":1.863,"eh":1.886,"y":0.356,"yl":0.321,"yh":0.395},
{"s":"r","e":1.899,"el":1.886,"eh":1.909,"y":0.219,"yl":0.197,"yh":0.243},
{"s":"r","e":1.920,"el":1.909,"eh":1.936,"y":0.168,"yl":0.151,"yh":0.186},
{"s":"r","e":1.952,"el":1.936,"eh":1.968,"y":0.192,"yl":0.173,"yh":0.213},
{"s":"r","e":1.984,"el":1.968,"eh":1.995,"y":0.16,"yl":0.144,"yh":0.178},
{"s":"r","e":2.013,"el":2.003,"eh":2.023,"y":0.168,"yl":0.136,"yh":0.208},
{"s":"r","e":2.032,"el":2.022,"eh":2.042,"y":0.143,"yl":0.113,"yh":0.182},
{"s":"r","e":2.052,"el":2.042,"eh":2.062,"y":0.124,"yl":0.0964,"yh":0.159},
{"s":"r","e":2.073,"el":2.063,"eh":2.083,"y":0.1057,"yl":0.080,"yh":0.1396},
{"s":"r","e":2.093,"el":2.083,"eh":2.103,"y":0.0938,"yl":0.0701,"yh":0.1256},
{"s":"r","e":2.113,"el":2.103,"eh":2.123,"y":0.0866,"yl":0.0648,"yh":0.116},
{"s":"r","e":2.134,"el":2.123,"eh":2.145,"y":0.080,"yl":0.0598,"yh":0.107},
{"s":"r","e":2.155,"el":2.144,"eh":2.166,"y":0.072,"yl":0.0538,"yh":0.0964},
{"s":"r","e":2.176,"el":2.165,"eh":2.187,"y":0.0665,"yl":0.0484,"yh":0.0914},
{"s":"r","e":2.197,"el":2.186,"eh":2.208,"y":0.0622,"yl":0.0471,"yh":0.0822},
{"s":"r","e":2.218,"el":2.207,"eh":2.229,"y":0.0575,"yl":0.0435,"yh":0.0759},
{"s":"r","e":2.240,"el":2.229,"eh":2.251,"y":0.0497,"yl":0.0361,"yh":0.0683},
{"s":"r","e":2.262,"el":2.251,"eh":2.273,"y":0.0447,"yl":0.0317,"yh":0.063},
{"s":"r","e":2.284,"el":2.273,"eh":2.295,"y":0.0407,"yl":0.0285,"yh":0.0582},
{"s":"r","e":2.306,"el":2.295,"eh":2.317,"y":0.0424,"yl":0.00987,"yh":0.0582},
{"s":"r","e":2.329,"el":2.317,"eh":2.341,"y":0.0552,"yl":0.0424,"yh":0.072},
{"s":"r","e":2.351,"el":2.339,"eh":2.363,"y":0.0692,"yl":0.0538,"yh":0.089},
{"s":"r","e":2.374,"el":2.362,"eh":2.386,"y":0.078,"yl":0.0598,"yh":0.1016},
{"s":"r","e":2.398,"el":2.386,"eh":2.410,"y":0.0844,"yl":0.0648,"yh":0.110},
{"s":"r","e":2.421,"el":2.409,"eh":2.433,"y":0.0914,"yl":0.0701,"yh":0.119},
{"s":"r","e":2.445,"el":2.433,"eh":2.457,"y":0.0989,"yl":0.0759,"yh":0.129},
{"s":"r","e":2.469,"el":2.457,"eh":2.481,"y":0.0879,"yl":0.0648,"yh":0.119},
{"s":"r","e":2.493,"el":2.481,"eh":2.505,"y":0.073,"yl":0.0538,"yh":0.0989},
{"s":"r","e":2.517,"el":2.504,"eh":2.530,"y":0.0545,"yl":0.0371,"yh":0.080},
{"s":"r","e":2.542,"el":2.529,"eh":2.555,"y":0.0413,"yl":0.0277,"yh":0.0614},
{"s":"r","e":2.567,"el":2.554,"eh":2.580,"y":0.0334,"yl":0.00842,"yh":0.051},
{"s":"r","e":2.592,"el":2.579,"eh":2.605,"y":0.0317,"yl":0.0213,"yh":0.0471},
{"s":"r","e":2.617,"el":2.604,"eh":2.630,"y":0.030,"yl":0.0202,"yh":0.0447},
{"s":"r","e":2.642,"el":2.629,"eh":2.655,"y":0.0263,"yl":0.0177,"yh":0.0392},
{"s":"r","e":2.668,"el":2.655,"eh":2.681,"y":0.0263,"yl":0.0163,"yh":0.0424},
{"s":"r","e":2.694,"el":2.681,"eh":2.707,"y":0.0263,"yl":0.0155,"yh":0.0447},
{"s":"r","e":2.720,"el":2.706,"eh":2.734,"y":0.0249,"yl":0.0147,"yh":0.0424},
{"s":"r","e":2.747,"el":2.733,"eh":2.761,"y":0.0233,"yl":0.0136,"yh":0.0402},
{"s":"r","e":2.773,"el":2.759,"eh":2.787,"y":0.0216,"yl":0.0122,"yh":0.0381},
{"s":"r","e":2.801,"el":2.787,"eh":2.815,"y":0.0227,"yl":0.0125,"yh":0.0412},
{"s":"r","e":2.828,"el":2.814,"eh":2.842,"y":0.0317,"yl":0.00537,"yh":0.0447},
{"s":"r","e":2.856,"el":2.842,"eh":2.870,"y":0.0219,"yl":0.0125,"yh":0.0381},
{"s":"r","e":2.883,"el":2.869,"eh":2.897,"y":0.0210,"yl":0.0119,"yh":0.0371},
{"s":"r","e":2.912,"el":2.897,"eh":2.927,"y":0.0243,"yl":0.0155,"yh":0.0381},
{"s":"r","e":2.941,"el":2.926,"eh":2.956,"y":0.0230,"yl":0.0147,"yh":0.0361},
{"s":"r","e":2.969,"el":2.954,"eh":2.984,"y":0.0202,"yl":0.0005,"yh":0.0381}
]
},
"hconcat": [
{
"width": 365, "height": 302,
"data": {"name": "A"},
"layer": [
 {"mark": {"type": "rule", "strokeWidth": 1.7, "clip": true},
  "encoding": {
   "x": {"field": "e", "type": "quantitative", "scale": {"type": "log", "domain": [0.512, 2.99], "nice": false}, "axis": {"orient": "bottom", "values": [1, 2], "format": "~g", "tickSize": -6, "labelPadding": 12, "title": "Energy (keV)", "titlePadding": 2}},
   "y": {"field": "yl", "type": "quantitative", "scale": {"type": "log", "domain": [0.001, 3], "nice": false}, "axis": {"orient": "left", "values": [0.001, 0.01, 0.1, 1], "tickSize": -6, "labelPadding": 10, "labelAngle": -90, "labelAlign": "center", "labelBaseline": "bottom", "labelExpr": "datum.value < 0.005 ? '10⁻³' : datum.value < 0.05 ? '0.01' : datum.value < 0.5 ? '0.1' : '1'", "title": "normalized counts s⁻¹ keV⁻¹", "titleFontSize": 13.5, "titlePadding": 6}},
   "y2": {"field": "yh"},
   "color": {"field": "s", "type": "nominal", "scale": {"domain": ["b", "r"], "range": ["#000000", "#ff0000"]}, "legend": null}
  }},
 {"mark": {"type": "rule", "strokeWidth": 1.7, "clip": true},
  "encoding": {
   "x": {"field": "el", "type": "quantitative", "scale": {"type": "log", "domain": [0.512, 2.99], "nice": false}, "axis": {"orient": "top", "values": [1, 2], "tickSize": -6, "labels": false, "title": null}},
   "x2": {"field": "eh"},
   "y": {"field": "y", "type": "quantitative", "scale": {"type": "log", "domain": [0.001, 3], "nice": false}, "axis": {"orient": "right", "values": [0.001, 0.01, 0.1, 1], "tickSize": -6, "labels": false, "title": null}},
   "color": {"field": "s", "type": "nominal", "scale": {"domain": ["b", "r"], "range": ["#000000", "#ff0000"]}, "legend": null}
  }},
 {"mark": {"type": "point", "opacity": 0},
  "encoding": {
   "x": {"field": "e", "type": "quantitative", "axis": {"orient": "bottom", "values": [0.6, 0.7, 0.8, 0.9], "tickSize": -3.5, "labels": false, "title": null}},
   "y": {"field": "y", "type": "quantitative", "axis": {"orient": "left", "values": [0.002,0.003,0.004,0.005,0.006,0.007,0.008,0.009,0.02,0.03,0.04,0.05,0.06,0.07,0.08,0.09,0.2,0.3,0.4,0.5,0.6,0.7,0.8,0.9,2], "tickSize": -3.5, "labels": false, "title": null}}
  }},
 {"mark": {"type": "point", "opacity": 0},
  "encoding": {
   "x": {"field": "e", "type": "quantitative", "axis": {"orient": "top", "values": [0.6, 0.7, 0.8, 0.9], "tickSize": -3.5, "labels": false, "title": null}},
   "y": {"field": "y", "type": "quantitative", "axis": {"orient": "right", "values": [0.002,0.003,0.004,0.005,0.006,0.007,0.008,0.009,0.02,0.03,0.04,0.05,0.06,0.07,0.08,0.09,0.2,0.3,0.4,0.5,0.6,0.7,0.8,0.9,2], "tickSize": -3.5, "labels": false, "title": null}}
  }}
],
"resolve": {"axis": {"x": "independent", "y": "independent"}}
},
{
"width": 364, "height": 302,
"data": {"name": "B"},
"layer": [
 {"mark": {"type": "rule", "strokeWidth": 1.7, "clip": true},
  "encoding": {
   "x": {"field": "e", "type": "quantitative", "scale": {"type": "log", "domain": [0.51, 2.985], "nice": false}, "axis": {"orient": "bottom", "values": [1, 2], "format": "~g", "tickSize": -6, "labelPadding": 12, "title": "Energy (keV)", "titlePadding": 2}},
   "y": {"field": "yl", "type": "quantitative", "scale": {"type": "log", "domain": [0.001, 3], "nice": false}, "axis": {"orient": "left", "values": [0.001, 0.01, 0.1, 1], "tickSize": -6, "labelPadding": 10, "labelAngle": -90, "labelAlign": "center", "labelBaseline": "bottom", "labelExpr": "datum.value < 0.005 ? '10⁻³' : datum.value < 0.05 ? '0.01' : datum.value < 0.5 ? '0.1' : '1'", "title": "normalized counts s⁻¹ keV⁻¹", "titleFontSize": 13.5, "titlePadding": 6}},
   "y2": {"field": "yh"},
   "color": {"field": "s", "type": "nominal", "scale": {"domain": ["b", "r"], "range": ["#000000", "#ff0000"]}, "legend": null}
  }},
 {"mark": {"type": "rule", "strokeWidth": 1.7, "clip": true},
  "encoding": {
   "x": {"field": "el", "type": "quantitative", "scale": {"type": "log", "domain": [0.51, 2.985], "nice": false}, "axis": {"orient": "top", "values": [1, 2], "tickSize": -6, "labels": false, "title": null}},
   "x2": {"field": "eh"},
   "y": {"field": "y", "type": "quantitative", "scale": {"type": "log", "domain": [0.001, 3], "nice": false}, "axis": {"orient": "right", "values": [0.001, 0.01, 0.1, 1], "tickSize": -6, "labels": false, "title": null}},
   "color": {"field": "s", "type": "nominal", "scale": {"domain": ["b", "r"], "range": ["#000000", "#ff0000"]}, "legend": null}
  }},
 {"mark": {"type": "point", "opacity": 0},
  "encoding": {
   "x": {"field": "e", "type": "quantitative", "axis": {"orient": "bottom", "values": [0.6, 0.7, 0.8, 0.9], "tickSize": -3.5, "labels": false, "title": null}},
   "y": {"field": "y", "type": "quantitative", "axis": {"orient": "left", "values": [0.002,0.003,0.004,0.005,0.006,0.007,0.008,0.009,0.02,0.03,0.04,0.05,0.06,0.07,0.08,0.09,0.2,0.3,0.4,0.5,0.6,0.7,0.8,0.9,2], "tickSize": -3.5, "labels": false, "title": null}}
  }},
 {"mark": {"type": "point", "opacity": 0},
  "encoding": {
   "x": {"field": "e", "type": "quantitative", "axis": {"orient": "top", "values": [0.6, 0.7, 0.8, 0.9], "tickSize": -3.5, "labels": false, "title": null}},
   "y": {"field": "y", "type": "quantitative", "axis": {"orient": "right", "values": [0.002,0.003,0.004,0.005,0.006,0.007,0.008,0.009,0.02,0.03,0.04,0.05,0.06,0.07,0.08,0.09,0.2,0.3,0.4,0.5,0.6,0.7,0.8,0.9,2], "tickSize": -3.5, "labels": false, "title": null}}
  }}
],
"resolve": {"axis": {"x": "independent", "y": "independent"}}
}
],
"bounds": "flush",
"spacing": 54
}
